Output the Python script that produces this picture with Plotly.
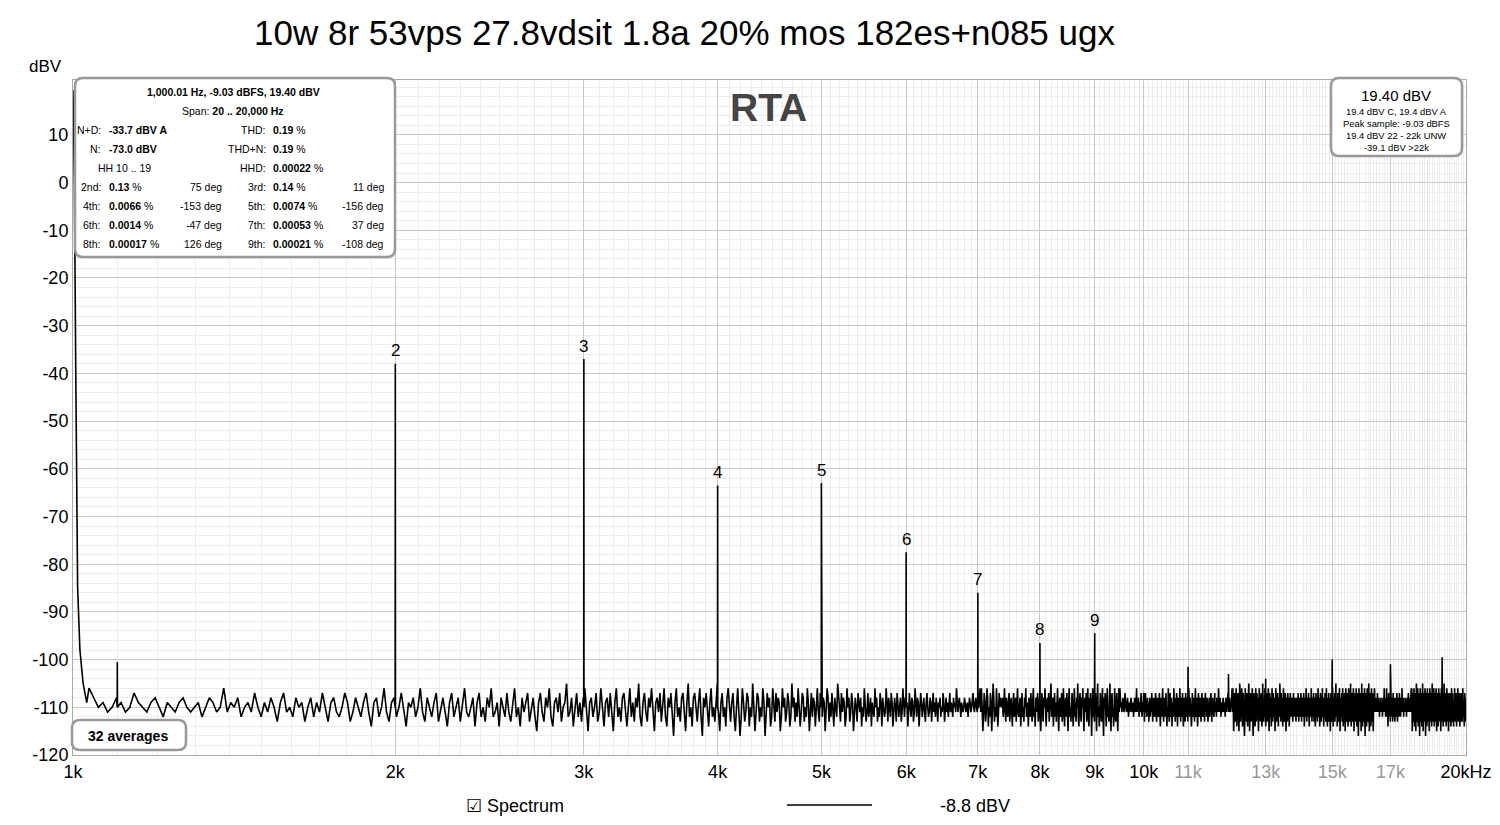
import numpy as np
import plotly.graph_objects as go

# ---------------- data ----------------
noise_db = [
-106,-108,-110,-109,-111,-110,-108,-109,-111,-110,-107,-109,-110,-111,-109,-108,-110,-112,-109,-110,
-111,-109,-108,-110,-111,-110,-109,-112,-110,-108,-109,-111,-110,-106,-111,-109,-110,-108,-112,-110,
-109,-111,-107,-110,-112,-109,-111,-108,-110,-113,-109,-107,-111,-110,-112,-108,-110,-109,-113,-110,
-108,-112,-109,-111,-107,-110,-113,-109,-108,-111,-112,-110,-107,-109,-113,-111,-108,-110,-112,-109,
-107,-111,-114,-109,-108,-112,-110,-106,-111,-113,-109,-108,-112,-110,-107,-111,-114,-109,-110,-108,
-112,-110,-106,-111,-113,-108,-110,-112,-109,-107,-113,-110,-108,-111,-114,-109,-107,-112,-110,-108,
-113,-109,-106,-111,-112,-110,-108,-114,-109,-107,-112,-110,-113,-108,-110,-106,-112,-111,-109,-114,
-108,-110,-112,-107,-111,-113,-109,-106,-112,-110,-114,-108,-111,-109,-107,-113,-110,-108,-112,-115,
-109,-107,-111,-113,-108,-110,-106,-112,-114,-109,-108,-111,-107,-113,-110,-109,-105,-112,-111,-108,
-114,-110,-107,-112,-109,-113,-108,-106,-111,-115,-109,-108,-112,-110,-107,-113,-111,-106,-110,-114,
-109,-108,-112,-107,-111,-115,-109,-106,-112,-110,-113,-108,-107,-111,-114,-110,-106,-112,-109,-113,
-108,-110,-105,-112,-114,-109,-107,-111,-113,-108,-110,-106,-112,-115,-109,-108,-111,-107,-113,-110,
-106,-112,-114,-108,-110,-107,-111,-116,-109,-106,-112,-110,-113,-108,-107,-111,-115,-109,-105,-112,
-110,-114,-108,-107,-111,-113,-109,-106,-112,-116,-108,-110,-107,-111,-114,-109,-106,-112,-110,-113,
-108,-105,-111,-115,-109,-107,-112,-110,-114,-108,-106,-111,-113,-109,-107,-112,-115,-110,-106,-111,
]
peak_freqs = [1000, 1100, 2000, 3000, 4000, 5000, 6000, 7000, 8000, 9000, 10000,
              11000, 12000, 13000, 15000, 17000, 19000]
peak_db = [19.4, -100.5, -38, -37, -63.5, -63, -77.5, -86, -96.5, -94.5, -107,
           -101.5, -103, -104, -100, -101, -99.5]
skirt_freqs = [1003, 1006, 1010, 1015, 1022, 1030]
skirt_db = [0, -40, -85, -98, -105, -109]
harm_labels = ["2", "3", "4", "5", "6", "7", "8", "9"]
harm_freqs = [2000, 3000, 4000, 5000, 6000, 7000, 8000, 9000]
harm_db = [-38, -37, -63.5, -63, -77.5, -86, -96.5, -94.5]

xtick_vals = [1000, 2000, 3000, 4000, 5000, 6000, 7000, 8000, 9000, 10000, 11000, 13000, 15000, 17000, 20000]
xtick_text = ["1k", "2k", "3k", "4k", "5k", "6k", "7k", "8k", "9k", "10k",
              "<span style='color:#999'>11k</span>", "<span style='color:#999'>13k</span>",
              "<span style='color:#999'>15k</span>", "<span style='color:#999'>17k</span>", "20kHz"]
ytick_vals = list(range(10, -121, -10))
ytick_text = [str(v) for v in ytick_vals]

# ---------------- build trace ----------------
floor = noise_db + noise_db[::-1][30:] + noise_db[::-1][:30] + noise_db[97:] + noise_db[:97] \
        + noise_db[::-1][150:] + noise_db[::-1][:150] + noise_db[40:] + noise_db[:40] \
        + noise_db[::-1][211:] + noise_db[::-1][:211]
nf = np.linspace(1035, 20000, len(floor))
f = list(nf); d = list(floor)
for pf, pd in zip(peak_freqs, peak_db):
    if pf == 1000:
        continue
    f += [pf * 0.9997, pf, pf * 1.0003]
    d += [-110, pd, -110]
f += [1000] + skirt_freqs
d += [peak_db[0]] + skirt_db
order = np.argsort(f)
f = np.array(f)[order]; d = np.array(d)[order]

OFF = 8  # page offset of the figure
X0, X1, YT, YB = 73 - OFF, 1466 - OFF, 80 - OFF, 755 - OFF
def px(x): return (x - OFF - X0) / (X1 - X0)
def py(y): return (YB - (y - OFF)) / (YB - YT)

def rrect(x0, y0, x1, y1, r=8):
    rx, ry = r / (X1 - X0), r / (YB - YT)
    a, b, c, e = px(x0), px(x1), py(y1), py(y0)
    return (f"M {a+rx},{e} L {b-rx},{e} Q {b},{e} {b},{e-ry} L {b},{c+ry} Q {b},{c} {b-rx},{c} "
            f"L {a+rx},{c} Q {a},{c} {a},{c+ry} L {a},{e-ry} Q {a},{e} {a+rx},{e} Z")

fig = go.Figure()
fig.add_trace(go.Scatter(x=f, y=d, mode="lines", line=dict(color="black", width=1.6),
                         showlegend=False, hoverinfo="skip"))

ann = []
for lab, hf, hd in zip(harm_labels, harm_freqs, harm_db):
    ann.append(dict(x=np.log10(hf), y=hd, xref="x", yref="y", text=lab, showarrow=False,
                    yshift=13, font=dict(size=17, color="black")))

def t(x, y, s, size=10, anchor="left", color="black"):
    ann.append(dict(x=px(x), y=py(y), xref="paper", yref="paper", text=s, showarrow=False,
                    xanchor=anchor, yanchor="middle", font=dict(size=size, color=color)))

t(684, 33, "10w 8r 53vps 27.8vdsit 1.8a 20% mos 182es+n085 ugx", 35, "center")
t(45, 67, "dBV", 17, "center")
t(768, 107, "<b>RTA</b>", 39, "center", "#444")
# left info box
FS = 10.5
t(233, 92, "<b>1,000.01 Hz, -9.03 dBFS, 19.40 dBV</b>", FS, "center")
t(233, 111, "Span: <b>20 .. 20,000 Hz</b>", FS, "center")
rows = [(130, "N+D:", "<b>-33.7 dBV A</b>", "", "THD:", "<b>0.19</b> %", ""),
        (149, "N:", "<b>-73.0 dBV</b>", "", "THD+N:", "<b>0.19</b> %", ""),
        (187, "2nd:", "<b>0.13</b> %", "75 deg", "3rd:", "<b>0.14</b> %", "11 deg"),
        (206, "4th:", "<b>0.0066</b> %", "-153 deg", "5th:", "<b>0.0074</b> %", "-156 deg"),
        (225, "6th:", "<b>0.0014</b> %", "-47 deg", "7th:", "<b>0.00053</b> %", "37 deg"),
        (244, "8th:", "<b>0.00017</b> %", "126 deg", "9th:", "<b>0.00021</b> %", "-108 deg")]
for y, l1, v1, g1, l2, v2, g2 in rows:
    t(103, y, l1, FS, "right"); t(107, y, v1, FS)
    if g1: t(224, y, g1, FS, "right")
    t(268, y, l2, FS, "right"); t(271, y, v2, FS)
    if g2: t(386, y, g2, FS, "right")
t(124, 168, "HH 10 .. 19", FS, "center")
t(268, 168, "HHD:", FS, "right"); t(271, 168, "<b>0.00022</b> %", FS)
# right box
t(1396, 95, "19.40 dBV", 15, "center")
for yy, s in [(111, "19.4 dBV C, 19.4 dBV A"), (123, "Peak sample: -9.03 dBFS"),
              (135, "19.4 dBV 22 - 22k UNW"), (147, "-39.1 dBV >22k")]:
    t(1396, yy, s, 9.4, "center")
t(128, 736, "<b>32 averages</b>", 14, "center")
# legend
t(515, 806, "☑ Spectrum", 18, "center")
t(975, 806, "-8.8 dBV", 18, "center")

shapes = [
    dict(type="path", xref="paper", yref="paper", path=rrect(75, 78, 395, 257),
         line=dict(color="#999", width=2.5), fillcolor="white"),
    dict(type="path", xref="paper", yref="paper", path=rrect(1331, 78, 1462, 156),
         line=dict(color="#999", width=2.5), fillcolor="white"),
    dict(type="path", xref="paper", yref="paper", path=rrect(72, 720, 186, 750),
         line=dict(color="#999", width=2.5), fillcolor="white"),
    dict(type="line", xref="paper", yref="paper", x0=px(787), x1=px(872), y0=py(805), y1=py(805),
         line=dict(color="black", width=1.5)),
    dict(type="line", xref="x", yref="paper", x0=4, x1=4, y0=0, y1=1, layer="below",
         line=dict(color="#888", width=1)),
]

fig.update_layout(
    width=1500, height=825, paper_bgcolor="white", plot_bgcolor="white",
    margin=dict(l=X0, r=1500 - X1, t=YT, b=825 - YB),
    font=dict(family="Arial, Liberation Sans, sans-serif", color="black"),
    annotations=ann, shapes=shapes,
    xaxis=dict(type="log", range=[3, np.log10(20000)], tickvals=xtick_vals, ticktext=xtick_text,
               showgrid=True, gridcolor="#c8c8c8", gridwidth=1, ticks="", tickfont=dict(size=18),
               minor=dict(tickvals=[v for v in range(1100, 20000, 100) if v % 1000], showgrid=True,
                          gridcolor="#ececec"),
               showline=True, linecolor="#aaa", mirror=True, zeroline=False),
    yaxis=dict(range=[-120, 21.5], tickvals=ytick_vals, ticktext=ytick_text, showgrid=True,
               gridcolor="#c8c8c8", ticks="", tickfont=dict(size=18), zeroline=False,
               minor=dict(dtick=2, showgrid=True, gridcolor="#ececec"),
               showline=True, linecolor="#aaa", mirror=True),
)
fig.write_html("out.html")
